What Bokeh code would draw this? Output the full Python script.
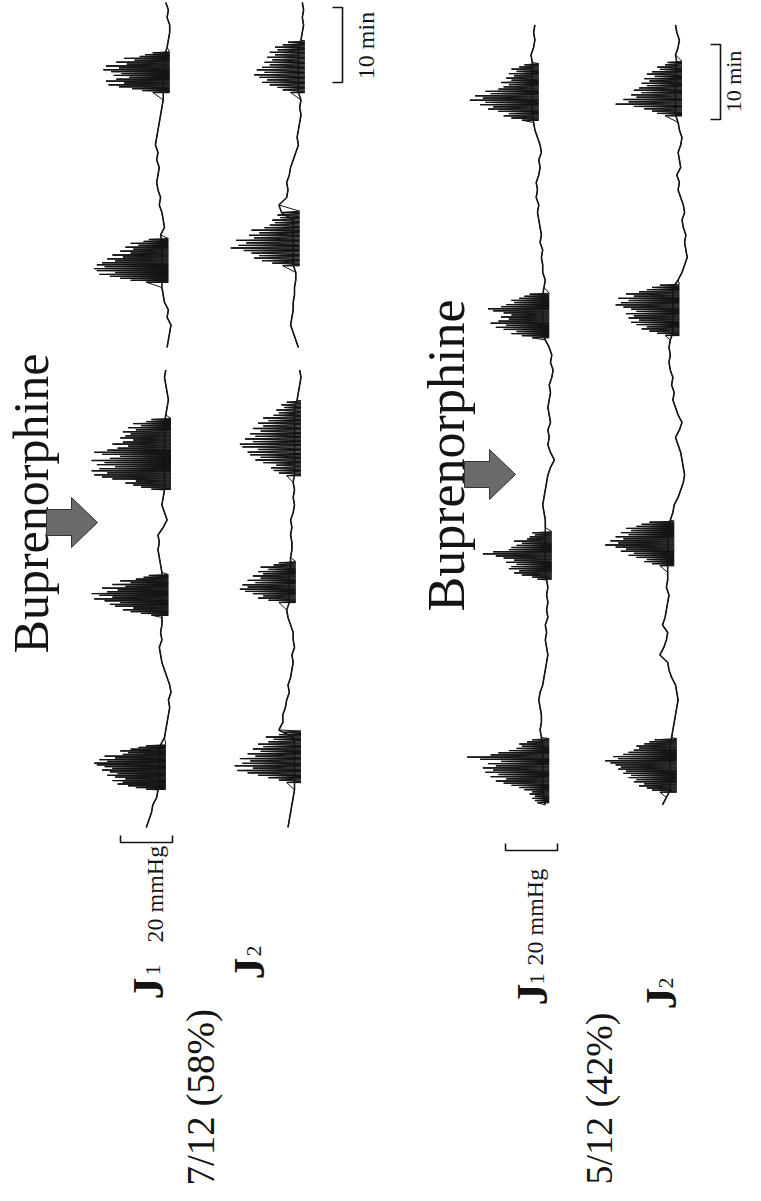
import numpy as np
from bokeh.plotting import figure
from bokeh.models import Range1d
from bokeh.embed import file_html
from bokeh.resources import INLINE
from bokeh.core.properties import value

nan = float("nan")

# ---------------- DATA (time in min, pressure in mmHg) ----------------
# Baseline pressure, sampled once per minute.
# Upper panel (7/12 responders), t = 0 .. 110 min
j1_top_base = [7, 6, 5, 4.5, 3,
               2.5, 2, 2, 2, 2, 2, 1.5,
               0, -0.5, -1, -1.5, -2, -1.5, -2.5, -2, -1, 0, 1, 1.5, 2, 1, 1.5, 1,
               1, 1, 1, 1, 1, 1, 1,
               1.5, 2, 2.5, 2, 2.5, 0.5, -1, 0, 1, 0.5,
               0, 0, 0, 0, 0, 0, 0, 0, 0, 0,
               -0.5, -1, -1.5, -1, -0.5, 0, -0.5,
               nan, nan,
               -1, -1.5, -2, -2.5, -1, -1.5, 0, 0.5, 1,
               1, 1, 1, 1, 1, 1,
               1.5, 0, 0.5, 1, 2, 1.5, 2.5, 3, 2.5, 2, 3, 2.5, 3.5, 3, 2.5, 2, 1.5, 1, 0.5,
               0.5, 0.5, 0, 0, 0, 0,
               -1, -1.5, -2, -2, -1, -1.5, -0.5]
j2_top_base = [2.5, 2, 1.5, 1, 0.5, 0,
               0, 0, 0, 0, 0, 0, 0.5,
               6, 4.5, 4.5, 3.5, 3, 2, 2.5, 1.5, 1, 0.5, 1, 0, 0.5, 0.5, 1.5, 2.5, 3,
               2, 2, 2, 2, 2, 1.5,
               1.5, 1, 1, 1.5, 1, 1.5, 0.5, 0, 0.5, 0, 0.5,
               0, 0, 0, 0, 0, 0, 0, 0, 0, 0,
               -1, -1.5, -2, -2.5, -2,
               nan, nan,
               -1.5, -0.5, 0.5, 1.5, 1, 0.5, 0.5, 0, 0, -0.5, -0.5,
               0.5, 0.5, 0.5, 0.5, 0.5, 0.5, 0.5,
               5, 6, 3, 2.5, 3, 2, 1.5, 0.5, -0.5, -1.5, -1, -1.5, -2, -2.5, -2, -2.5,
               -1.5, -1.5, -1.5, -1.5, -1.5, -1.5, -1.5,
               -2.5, -3, -3.5, -3, -3.5, -3]
# Lower panel (5/12 responders), t = 3 .. 107 min
j1_bot_base = [-3, -2.5, -2, -2, -2, -2, -2, -2, -2, -1.5,
               -1, -1.5, -1.5, -1, -0.5, -1, -2, -2.5, -3, -3.5, -4, -3.5, -3, -3.5, -3,
               -4, -3.5, -4, -3.5, -4, -3.5,
               -3, -3, -3, -3, -3, -3,
               -3, -3, -2.5, -2, -2.5, -3, -3.5, -4, -5, -6.5, -5, -4, -4.5, -4, -5,
               -4.5, -4, -4.5, -5, -4.5, -5.5, -6, -5, -5.5, -4.5, -3,
               -2, -2, -2, -2, -2, -2,
               -2.5, -3, -2, -2, -1.5, -2, -1, -1.5, -1, -0.5, 0, -0.5, 0.5, 0, 0.5,
               -0.5, -1, -0.5, -1.5, -1, 0, 1, 1.5,
               2, 2, 2, 2, 2, 2, 2,
               2, 2.5, 1.5, 1, 1.5, 1]
j2_bot_base = [5, 3.5,
               2, 2, 2, 2, 2, 2, 2, 1.5,
               1, 0.5, 0, -0.5, -1, -0.5, 0, 1.5, 2.5, 3, 6, 4.5, 3.5, 3, 5, 4, 3.5,
               3, 2.5, 3.5, 3, 3,
               3, 3, 3, 3, 3, 3,
               2, 1, 0.5, -1, -2, -3, -3.5, -3, -2.5, -2, -1, 0, -1.5, -2.5, -1, 0,
               1, 0.5, 1.5, 1, 2, 2.5, 2, 2.5, 2,
               1, 1, 1, 1, 1, 1, 1,
               -1, -2.5, -3.5, -4.5, -4, -3.5, -4, -3, -2.5, -3.5, -3, -2, -1, -1.5,
               -0.5, -2, -1.5, -1, -2, -2.5, -1.5, -1,
               0, 0, 0, 0, 0, 0, 0,
               -0.5, 0, -1, -1.5, -0.5, 0]

# Phase III bursts: (start, end) in min, burst baseline, spike amplitudes (mmHg)
j1_top_burst_win = [(5.1, 10.9), (28.3, 33.6), (45.1, 54.4), (72.7, 78.4), (98.0, 103.3)]
j1_top_burst_base = [2, 1, 0, 1, 0.5]
j1_top_burst_amp = [
    [5, 9, 12, 16, 14, 18, 13, 17, 20, 16, 19, 22, 18, 21, 24, 25, 20, 23, 17, 21, 14, 12, 15, 11, 8, 5],
    [4, 8, 12, 15, 11, 18, 20, 16, 22, 26, 19, 24, 27, 21, 17, 23, 14, 19, 12, 16, 10, 7, 5],
    [5, 9, 12, 15, 11, 20, 24, 27, 22, 28, 25, 19, 26, 23, 28, 21, 17, 24, 27, 22, 18, 14, 20, 16,
     12, 17, 15, 13, 16, 11, 14, 9, 12, 7, 5],
    [6, 12, 16, 20, 24, 18, 25, 26, 22, 25, 23, 18, 21, 15, 19, 12, 16, 11, 14, 9, 12, 7, 5],
    [4, 8, 12, 17, 21, 15, 22, 18, 13, 19, 16, 20, 23, 17, 22, 14, 18, 11, 15, 9, 7, 4],
]
j2_top_burst_win = [(6.0, 12.7), (30.0, 35.3), (46.9, 56.7), (74.9, 82.0), (98.0, 104.7)]
j2_top_burst_base = [0, 2, 0, 0.5, -1.5]
j2_top_burst_amp = [
    [3, 6, 10, 14, 18, 22, 16, 23, 20, 17, 21, 15, 18, 13, 16, 12, 14, 10, 8, 11, 6, 4],
    [4, 8, 12, 10, 14, 17, 19, 16, 18, 13, 16, 11, 14, 10, 12, 8, 11, 6, 4],
    [3, 6, 8, 9, 7, 12, 15, 13, 17, 18, 14, 20, 21, 16, 19, 15, 17, 13, 16, 12, 14, 10, 12, 8,
     6, 7, 4, 5, 3],
    [4, 8, 12, 15, 13, 16, 19, 24, 21, 18, 22, 15, 17, 13, 16, 11, 9, 7, 8, 5, 6, 4],
    [3, 6, 8, 11, 14, 12, 15, 17, 13, 16, 14, 11, 13, 10, 12, 9, 11, 8, 9, 6, 4],
]
j1_bot_burst_win = [(3.3, 11.7), (33.1, 39.3), (65.3, 71.1), (94.3, 101.7)]
j1_bot_burst_base = [-2, -3, -2, 2]
j1_bot_burst_amp = [
    [2, 3, 4, 3, 5, 4, 7, 9, 12, 15, 18, 14, 20, 17, 22, 19, 23, 18, 21, 16, 24, 29, 20, 17, 13,
     10, 8, 9, 6, 4],
    [3, 5, 9, 12, 10, 14, 13, 11, 15, 12, 16, 19, 24, 20, 14, 13, 11, 9, 12, 7, 6, 4, 5],
    [4, 8, 12, 10, 15, 18, 14, 20, 17, 13, 16, 12, 15, 19, 21, 16, 14, 11, 12, 9, 7, 5],
    [4, 8, 11, 9, 13, 17, 15, 20, 18, 24, 19, 22, 16, 18, 13, 11, 9, 12, 8, 10, 7, 9, 6, 8, 5, 3],
]
j2_bot_burst_win = [(4.7, 11.7), (34.9, 40.7), (65.6, 72.3), (94.9, 102.0)]
j2_bot_burst_base = [2, 3, 1, 0]
j2_bot_burst_amp = [
    [4, 7, 9, 12, 10, 14, 13, 16, 15, 18, 17, 20, 19, 21, 23, 25, 20, 22, 18, 16, 14, 12, 13, 10, 8, 6],
    [3, 6, 9, 8, 12, 15, 13, 18, 16, 20, 24, 19, 22, 17, 20, 15, 18, 14, 16, 12, 10, 7],
    [3, 6, 9, 12, 10, 14, 16, 13, 17, 15, 18, 14, 16, 19, 22, 20, 17, 21, 15, 18, 13, 10, 8, 5],
    [4, 7, 9, 12, 16, 23, 18, 20, 15, 17, 13, 16, 14, 11, 13, 10, 12, 8, 11, 9, 6, 7, 4, 3],
]

labels_group = ["7/12 (58%)", "5/12 (42%)"]
drug_label = "Buprenorphine"
scale_p_label = "20 mmHg"
scale_t_label = "10 min"
SCALE_P = 20   # mmHg
SCALE_T = 10   # min

# ---------------- LAYOUT ----------------
PX_MM = 2.6      # px per mmHg (horizontal, pressure rises to the left)
PX_MIN = 7.5     # px per min (vertical, time runs upward)
W, H = 745, 1185
INK = "#141414"
SERIF = value("Liberation Serif")


def ux(P):   # page x (px) -> pressure coordinate
    return (753 - P) / PX_MM


def ty(Y):   # page y (px) -> time coordinate
    return 111.33 - Y / PX_MIN


p = figure(width=W, height=H, output_backend="svg", toolbar_location=None,
           x_range=Range1d(ux(8), ux(8 + W)), y_range=Range1d(ty(8 + H), ty(8)),
           x_axis_location=None, y_axis_location=None, min_border=0,
           background_fill_color="white", border_fill_color="white")
p.outline_line_color = None
p.grid.grid_line_color = None

OFF_J1_TOP, OFF_J2_TOP = ux(172), ux(302)
OFF_J1_BOT, OFF_J2_BOT = ux(545), ux(683)
FLOOR = -2.5


def draw_trace(t0, base, off, wins, bbase, amps):
    t = t0 + np.arange(len(base))
    pts = [(ti, vi) for ti, vi in zip(t, base)
           if not any(a <= ti <= b for a, b in wins)]
    x0, x1, yy = [], [], []
    for (a, b), b0, am in zip(wins, bbase, amps):
        tt = np.linspace(a, b, len(am))
        dt = (b - a) / (len(am) - 1)
        for ti, ai in zip(tt, am):
            pts.append((ti, b0 + ai))
            pts.append((ti + dt / 2, b0 + FLOOR))
            x0.append(off + b0 + FLOOR)
            x1.append(off + b0 + ai)
            yy.append(ti)
    pts.sort(key=lambda q: q[0])
    p.line([off + v for _, v in pts], [q[0] for q in pts],
           line_color=INK, line_width=1.0, line_join="round")
    p.segment(x0=x0, y0=yy, x1=x1, y1=yy, line_color=INK, line_width=1.3)
    p.line(off + np.array(base, dtype=float), t, line_color=INK, line_width=1.6)


draw_trace(0, j1_top_base, OFF_J1_TOP, j1_top_burst_win, j1_top_burst_base, j1_top_burst_amp)
draw_trace(0, j2_top_base, OFF_J2_TOP, j2_top_burst_win, j2_top_burst_base, j2_top_burst_amp)
draw_trace(3, j1_bot_base, OFF_J1_BOT, j1_bot_burst_win, j1_bot_burst_base, j1_bot_burst_amp)
draw_trace(3, j2_bot_base, OFF_J2_BOT, j2_bot_burst_win, j2_bot_burst_base, j2_bot_burst_amp)


def vtext(P, Y, s, size, bold=False, align="left"):
    # P: page x of the glyph baseline (text reads bottom-to-top)
    p.text(x=[ux(P - 0.2 * size)], y=[ty(Y)], text=[s], angle=np.pi / 2, text_align=align,
           text_baseline="alphabetic", text_font=SERIF, text_font_size=f"{size}px",
           text_font_style="bold" if bold else "normal", text_color=INK)


def arrow(Ptip, Ytip):
    shape = [(-51, -13), (-26, -13), (-26, -25), (0, 0), (-26, 25), (-26, 13), (-51, 13)]
    p.patch([ux(Ptip + dx) for dx, dy in shape], [ty(Ytip + dy) for dx, dy in shape],
            fill_color="#6a6a6a", line_color="#333333", line_width=1)


def p_bracket(Pright, Y):
    xr = ux(Pright)
    xl = xr + SCALE_P
    y0, y1 = ty(Y), ty(Y - 7)
    p.line([xl, xl, xr, xr], [y1, y0, y0, y1], line_color=INK, line_width=1.6)


def t_bracket(P, Ybottom):
    x0, x1 = ux(P), ux(P - 10)
    yb = ty(Ybottom)
    yt = yb + SCALE_T
    p.line([x1, x0, x0, x1], [yb, yb, yt, yt], line_color=INK, line_width=1.6)


# upper panel annotations
vtext(48, 511, drug_label, 50, align="center")
arrow(105, 530)
vtext(165, 1007, "J", 44, bold=True)
vtext(165, 983, "1", 22)
vtext(167, 950, scale_p_label, 24)
p_bracket(180, 850)
vtext(266, 987, "J", 44, bold=True)
vtext(266, 964, "2", 22)
vtext(216, 1193, labels_group[0], 39)
t_bracket(350, 90)
vtext(378, 53, scale_t_label, 24, align="center")

# lower panel annotations
vtext(464, 463, drug_label, 52, align="center")
arrow(523, 482)
vtext(549, 1013, "J", 44, bold=True)
vtext(549, 992, "1", 22)
vtext(547, 973, scale_p_label, 24)
p_bracket(565, 858)
vtext(678, 1017, "J", 44, bold=True)
vtext(678, 996, "2", 22)
vtext(614, 1192, labels_group[1], 38)
t_bracket(728, 127)
vtext(745, 89, scale_t_label, 22, align="center")

open("out.html", "w").write(file_html(p, INLINE))
